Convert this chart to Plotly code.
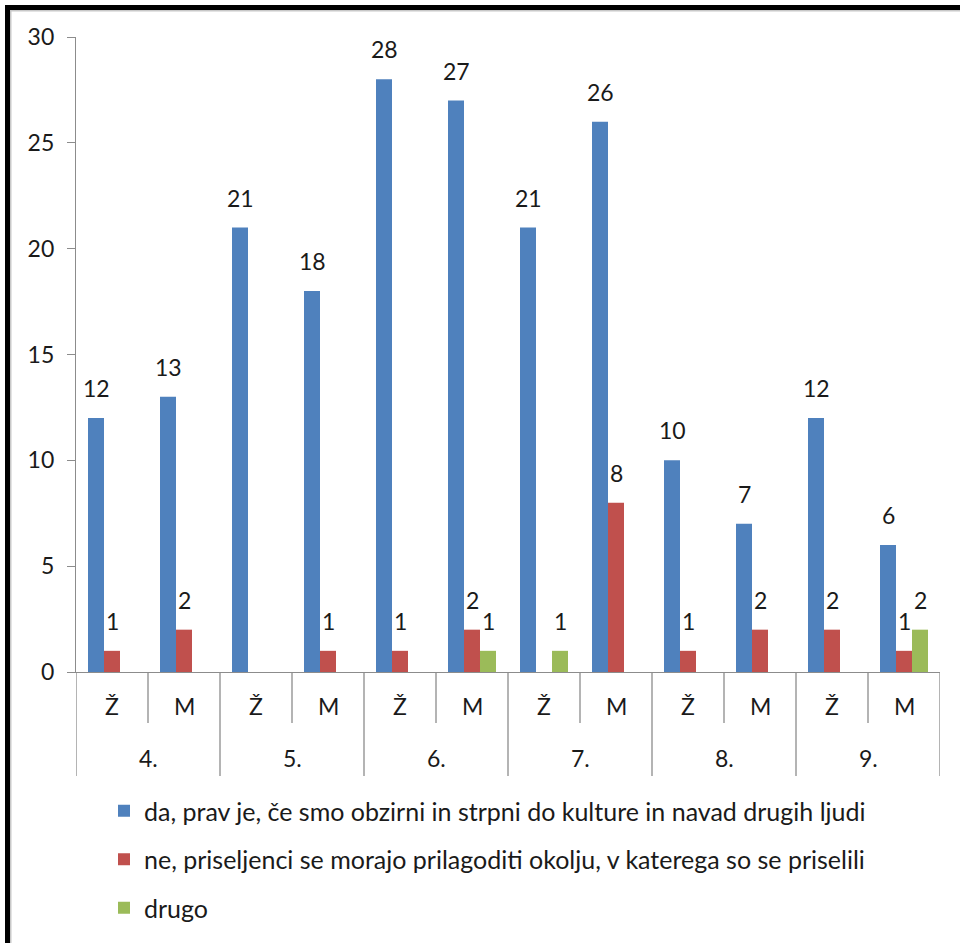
import plotly.graph_objects as go

grades = ["4.", "5.", "6.", "7.", "8.", "9."]
sexes = ["Ž", "M"]
series_names = [
    "da, prav je, če smo obzirni in strpni do kulture in navad drugih ljudi",
    "ne, priseljenci se morajo prilagoditi okolju, v katerega so se priselili",
    "drugo",
]
da_values = [12, 13, 21, 18, 28, 27, 21, 26, 10, 7, 12, 6]
ne_values = [1, 2, None, 1, 1, 2, None, 8, 1, 2, 2, 1]
drugo_values = [None, None, None, None, None, 1, 1, None, None, None, None, 2]
y_ticks = [0, 5, 10, 15, 20, 25, 30]

colors = ["#4F81BD", "#C0504D", "#9BBB59"]
FONT = "Lato"
FS = 23
LFS = 25
TXT = "#1a1a1a"
AX = "#8c8c8c"

# layout geometry (pixels)
W, H = 960, 943
L, R, T, B = 76, 20, 37, 271
pw, ph = W - L - R, H - T - B


def py(pix):  # pixel y -> paper y
    return (H - B - pix) / ph


def px(pix):  # pixel x -> paper x
    return (pix - L) / pw


x_keys = [f"{g} {s}" for g in grades for s in sexes]
all_series = [da_values, ne_values, drugo_values]

fig = go.Figure()
for name, vals, col in zip(series_names, all_series, colors):
    fig.add_trace(go.Bar(
        x=x_keys, y=vals, name=name, marker=dict(color=col, line=dict(width=0)),
        legendgroup=name,
    ))

annotations = []
nser = len(all_series)
bar_w = (1 - 1 / 3) / nser
for j, vals in enumerate(all_series):
    off = (j - (nser - 1) / 2) * bar_w
    for i, v in enumerate(vals):
        if v is None:
            continue
        annotations.append(dict(
            x=i + off, y=v, xref="x", yref="y", text=str(v), showarrow=False,
            yanchor="bottom", xanchor="center", yshift=14,
            font=dict(family=FONT, size=FS, color=TXT),
        ))

# category labels
for i, key in enumerate(x_keys):
    annotations.append(dict(
        x=i, y=py(706), xref="x", yref="paper", text=sexes[i % 2], showarrow=False,
        yanchor="middle", xanchor="center",
        font=dict(family=FONT, size=FS, color=TXT),
    ))
for k, g in enumerate(grades):
    annotations.append(dict(
        x=2 * k + 0.5, y=py(758), xref="x", yref="paper", text=g, showarrow=False,
        yanchor="middle", xanchor="center",
        font=dict(family=FONT, size=FS, color=TXT),
    ))

shapes = []
# separators
for i in range(len(x_keys) + 1):
    xb = i - 0.5
    bottom = py(776) if i % 2 == 0 else py(723)
    shapes.append(dict(type="line", xref="x", yref="paper", x0=xb, x1=xb,
                       y0=0, y1=bottom, line=dict(color=AX, width=1.3)))
# frame shadow + frame
shapes.append(dict(type="rect", xref="paper", yref="paper",
                   x0=px(10.5), x1=px(1000), y0=py(10.5), y1=py(1000),
                   line=dict(color="#c8c8c8", width=2), layer="above"))
shapes.append(dict(type="rect", xref="paper", yref="paper",
                   x0=px(7.5), x1=px(1000), y0=py(7.5), y1=py(1000),
                   line=dict(color="#000000", width=5), layer="above"))

fig.update_layout(
    width=W, height=H,
    margin=dict(l=L, r=R, t=T, b=B, autoexpand=False),
    paper_bgcolor="white", plot_bgcolor="white",
    barmode="group", bargap=1 / 3, bargroupgap=0,
    font=dict(family=FONT, size=FS, color=TXT),
    xaxis=dict(type="category", showticklabels=False, ticks="", showgrid=False,
               showline=True, linecolor=AX, linewidth=1.3, zeroline=False,
               range=[-0.5, len(x_keys) - 0.5], fixedrange=True),
    yaxis=dict(range=[0, 30], tickvals=y_ticks, ticks="outside", ticklen=8,
               tickcolor=AX, tickwidth=1.3, showline=True, linecolor=AX,
               linewidth=1.3, showgrid=False, zeroline=False,
               ticklabelstandoff=8,
               tickfont=dict(family=FONT, size=FS, color=TXT)),
    legend=dict(orientation="v", x=px(104), y=py(788), xanchor="left", yanchor="top",
                traceorder="grouped", tracegroupgap=13,
                font=dict(family=FONT, size=LFS, color=TXT),
                bgcolor="rgba(0,0,0,0)"),
    annotations=annotations,
    shapes=shapes,
    showlegend=True,
)

fig.write_html("out.html")
